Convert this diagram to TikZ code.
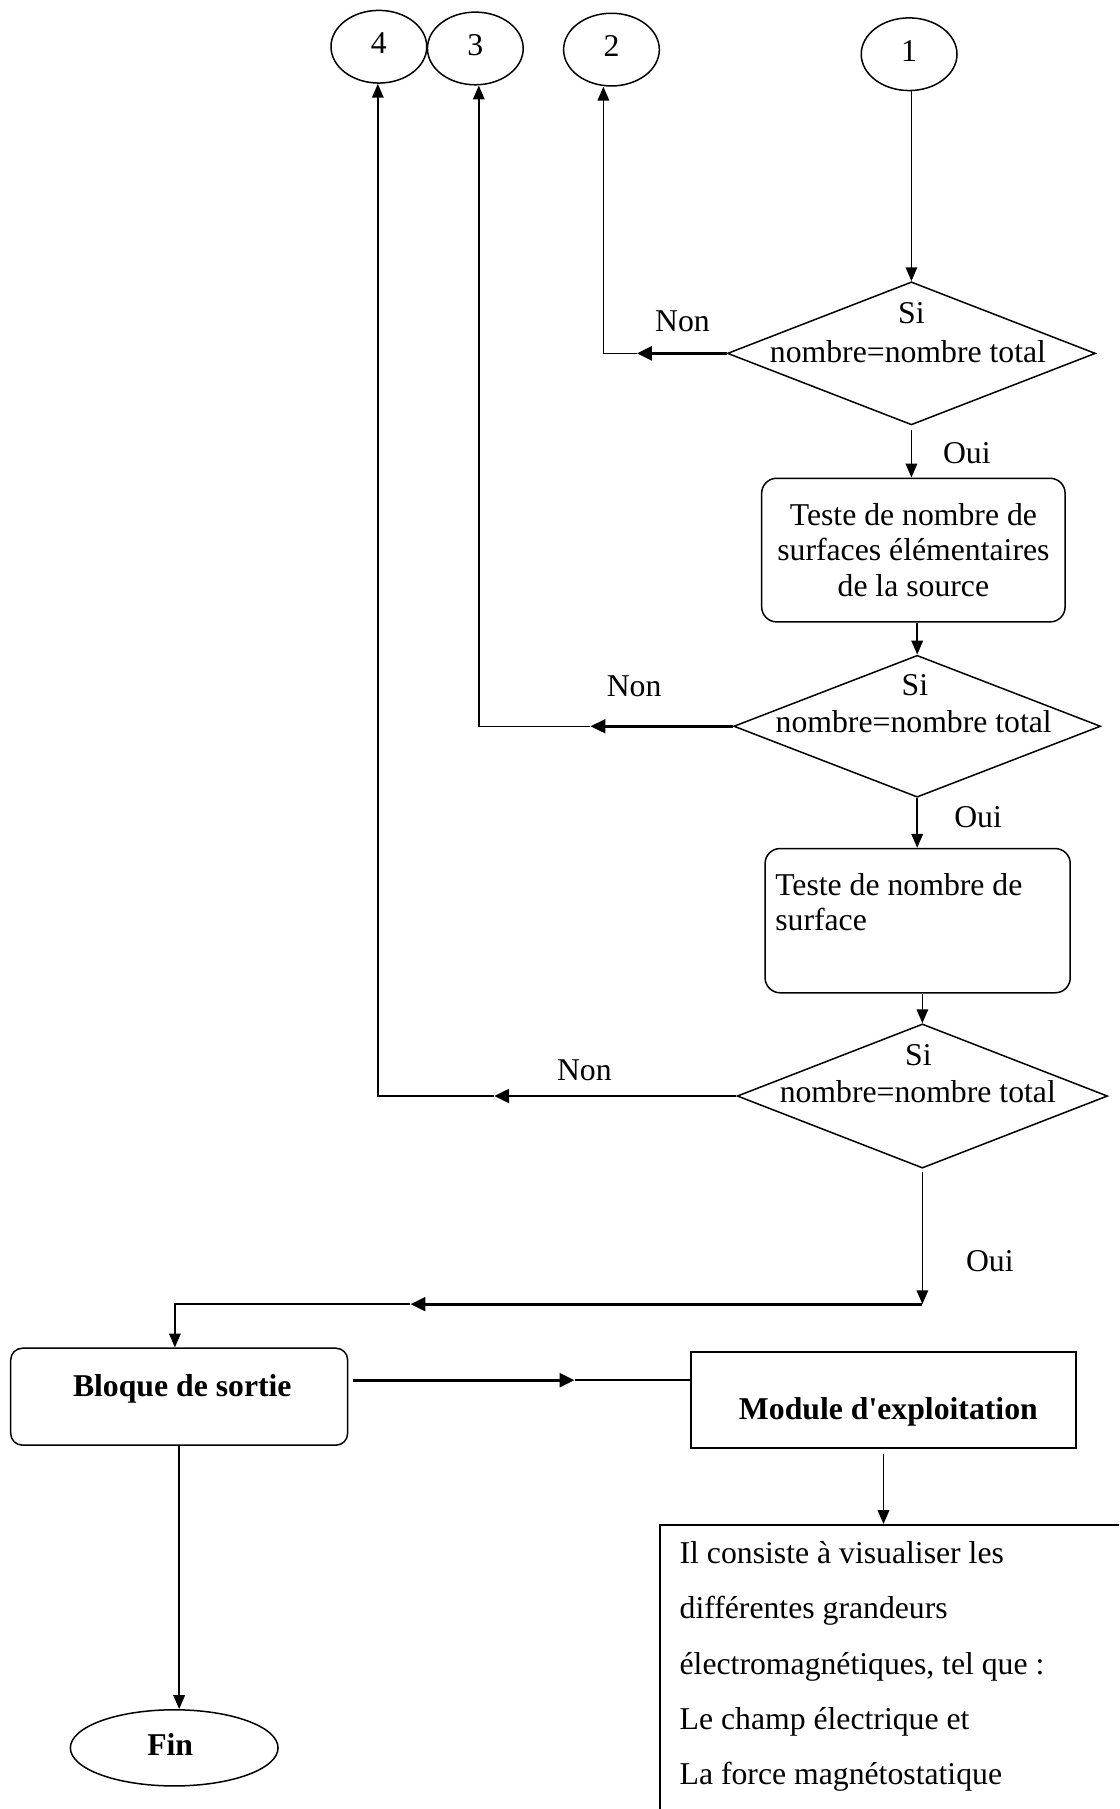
\documentclass[tikz,border=0pt]{standalone}
\usepackage{fontspec}
% plain serif family, without the TeX quote mapping, so ' stays straight
\newfontfamily\flowfont{Liberation Serif}
\usetikzlibrary{arrows.meta,shapes.geometric}
\begin{document}
\begin{tikzpicture}[x=1pt,y=-1pt,
  every node/.style={inner sep=0pt, font=\flowfont\fontsize{27.5}{31}\selectfont},
  thin line/.style={line width=1.3pt},
  bold line/.style={line width=2.4pt},
  tip/.style={-{Triangle[length=12pt,width=10pt]}},
  bigtip/.style={-{Triangle[length=13pt,width=12pt]}},
  connector/.style={draw, ellipse, line width=1.3pt, minimum width=83pt,
    minimum height=63pt, text height=19pt, text depth=7pt},
  decision/.style={draw, diamond, line width=1.3pt},
  process/.style={draw, rounded corners=13pt, line width=1.3pt},
  terminal/.style={draw, ellipse, line width=1.3pt},
  bold text/.style={font=\flowfont\fontsize{27.5}{31}\selectfont\bfseries},
]
\useasboundingbox (0,0) rectangle (970,1568);
\clip (0,0) rectangle (970,1568);

% off-page connectors
\node[connector] (c4) at (328.4,40.5) {4};
\node[connector] (c3) at (412,42) {3};
\node[connector] (c2) at (530,43) {2};
\node[connector] (c1) at (788,47) {1};

% first test
\node[decision, minimum width=319pt, minimum height=124pt] (d1) at (790,306.3) {};
\node[anchor=base] (d1a) at (790,280.6) {Si};
\node[anchor=base] (d1b) at (787,314) {nombre=nombre total};
\node (non1) at (591.5,278.8) {Non};
\node (oui1) at (838,392.4) {Oui};

\node[process, minimum width=263pt, minimum height=124.5pt, align=center,
  font=\flowfont\fontsize{27.5}{30.5}\selectfont] (b1) at (791.7,476.8)
  {Teste de nombre de\\surfaces élémentaires\\de la source};

% second test
\node[decision, minimum width=318pt, minimum height=123pt] (d2) at (795,629.5) {};
\node[anchor=base] (d2a) at (793,602.8) {Si};
\node[anchor=base] (d2b) at (792,635) {nombre=nombre total};
\node (non2) at (549.6,595.2) {Non};
\node (oui2) at (847.8,708) {Oui};

\node[process, minimum width=264.5pt, minimum height=125pt] (b2) at (795.4,798) {};
\node[anchor=north west, align=left, font=\flowfont\fontsize{27.5}{30.4}\selectfont] (b2t)
  at (671.8,757) {Teste de nombre de\\surface};

% third test
\node[decision, minimum width=321pt, minimum height=125pt] (d3) at (799.5,950) {};
\node[anchor=base] (d3a) at (796,923.5) {Si};
\node[anchor=base] (d3b) at (795.5,955.7) {nombre=nombre total};
\node (non3) at (506.5,928) {Non};
\node (oui3) at (858,1093) {Oui};

% output part
\node[process, rounded corners=10pt, minimum width=292pt, minimum height=84pt] (sortie) at (155.3,1210.6) {};
\node[bold text] (sortiet) at (158,1203.8) {Bloque de sortie};
\node[draw, line width=1.6pt, minimum width=333.5pt, minimum height=83.7pt] (mod) at (765.8,1213.5) {};
\node[bold text] (modt) at (770,1223.7) {Module d'exploitation};
\node[terminal, minimum width=180pt, minimum height=66pt] (fin) at (151,1515) {};
\node[bold text] (fint) at (147.5,1512.5) {Fin};

\node[draw, line width=1.3pt, anchor=north west, minimum width=440pt, minimum height=300pt] (tb) at (571.5,1321) {};
\node[anchor=north west, align=left, font=\flowfont\fontsize{27.5}{48}\selectfont] (tbt) at (588.9,1335.7)
  {Il consiste à visualiser les\\différentes grandeurs\\électromagnétiques, tel que :\\Le champ électrique et\\La force magnétostatique};

% corners and arrow points of the connectors
\coordinate (n1tip) at (552,306.3);
\coordinate (k2) at (523,306.3);
\coordinate (n2tip) at (511.8,629.5);
\coordinate (k3) at (415,629.5);
\coordinate (n3tip) at (428.3,950);
\coordinate (k4) at (327.5,950);
\coordinate (j1) at (799.5,1130.4);
\coordinate (htip) at (355.8,1130.4);
\coordinate (j2) at (151.6,1130.4);
\coordinate (bm0) at (306,1196.3);
\coordinate (bmtip) at (498,1196.3);

% main flow
\draw[thin line, tip] (c1.south -| d1.north) -- (d1.north);
\draw[thin line, tip] ([yshift=-4pt]d1.south) -- (d1.south |- b1.north);
\draw[thin line, tip] (b1.south -| d2.north) -- (d2.north);
\draw[thin line, tip] (d2.south) -- (d2.south |- b2.north);
\draw[thin line, tip] (b2.south -| d3.north) -- (d3.north);
\draw[thin line, tip] ([yshift=-3pt]d3.south) -- (j1);

% "Non" branches back to the connectors
\draw[bold line, bigtip] (d1.west) -- (n1tip);
\draw[thin line, tip] (n1tip) -- (k2) -- (k2 |- c2.south);
\draw[bold line, bigtip] (d2.west) -- (n2tip);
\draw[thin line, tip] (n2tip) -- (k3) -- (k3 |- c3.south);
\draw[bold line, bigtip] (d3.west) -- (n3tip);
\draw[thin line, tip] (n3tip) -- (k4) -- (k4 |- c4.south);

% output
\draw[bold line, bigtip] (j1) -- (htip);
\draw[thin line, tip] (htip) -- (j2) -- (j2 |- sortie.north);
\draw[bold line, bigtip] (bm0) -- (bmtip);
\draw[thin line] (bmtip) -- (bmtip -| mod.west);
\draw[thin line, tip] ([yshift=-4.5pt]mod.south) -- (mod.south |- tb.north);
\draw[thin line, tip] (sortie.south) -- (sortie.south |- fin.north);
\end{tikzpicture}
\end{document}
